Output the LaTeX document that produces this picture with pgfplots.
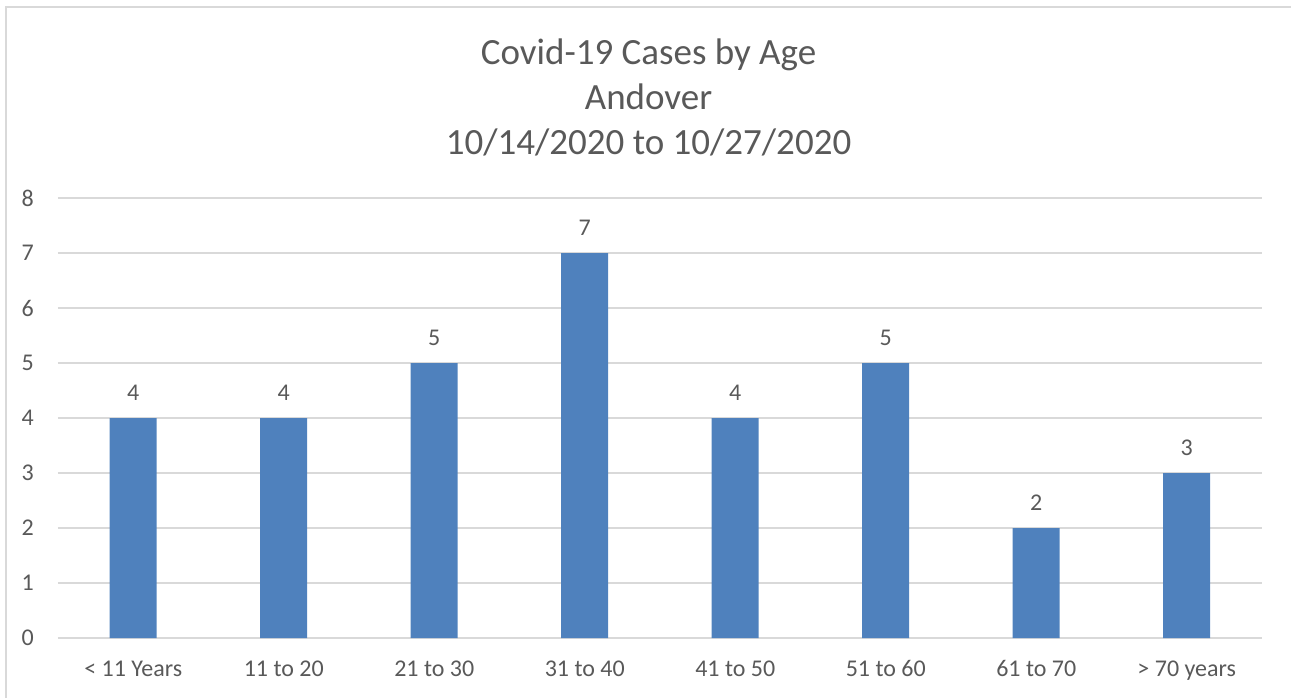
\documentclass[border=0pt]{standalone}
\usepackage{pgfplots}
\pgfplotsset{compat=1.18}
\usepackage{fontspec}
\setmainfont{Carlito}
\definecolor{barblue}{RGB}{79,129,189}
\definecolor{txtgray}{RGB}{89,89,89}
\definecolor{gridgray}{RGB}{217,217,217}
\begin{document}
\begin{tikzpicture}
\path[use as bounding box] (-58pt,-59pt) rectangle (1233pt,638pt);
\draw[gridgray,line width=2pt] (-52pt,-70pt) -- (-52pt,631pt) -- (1240pt,631pt);
\begin{axis}[
  at={(0pt,0pt)}, anchor=south west,
  scale only axis, width=1204pt, height=440pt,
  xmin=-0.5, xmax=7.5, ymin=0, ymax=8,
  xtick=data,
  xticklabels={< 11 Years, 11 to 20, 21 to 30, 31 to 40, 41 to 50, 51 to 60, 61 to 70, > 70 years},
  ytick={0,1,...,8},
  axis line style={draw=none},
  major tick length=0pt,
  ymajorgrids, grid style={gridgray, line width=1.5pt},
  tick label style={font=\fontsize{24}{28}\selectfont, text=txtgray},
  xticklabel style={anchor=base, yshift=-38pt, inner sep=0pt},
  yticklabel style={anchor=east, xshift=-24pt, inner sep=0pt},
  /pgf/number format/assume math mode=true,
  ybar, bar width=47pt,
  nodes near coords,
  every node near coord/.append style={font=\fontsize{24}{28}\selectfont, text=txtgray, anchor=base, yshift=18pt, inner sep=0pt},
]
\addplot[fill=barblue, draw=none] coordinates {(0,4) (1,4) (2,5) (3,7) (4,4) (5,5) (6,2) (7,3)};
\end{axis}
\begin{scope}[every node/.style={font=\fontsize{37}{45}\selectfont, text=txtgray, anchor=base, inner sep=0pt}]
\node at (590.5pt,573pt) {Covid-19 Cases by Age};
\node at (590.5pt,528pt) {Andover};
\node at (590.5pt,483pt) {10/14/2020 to 10/27/2020};
\end{scope}
\end{tikzpicture}
\end{document}
